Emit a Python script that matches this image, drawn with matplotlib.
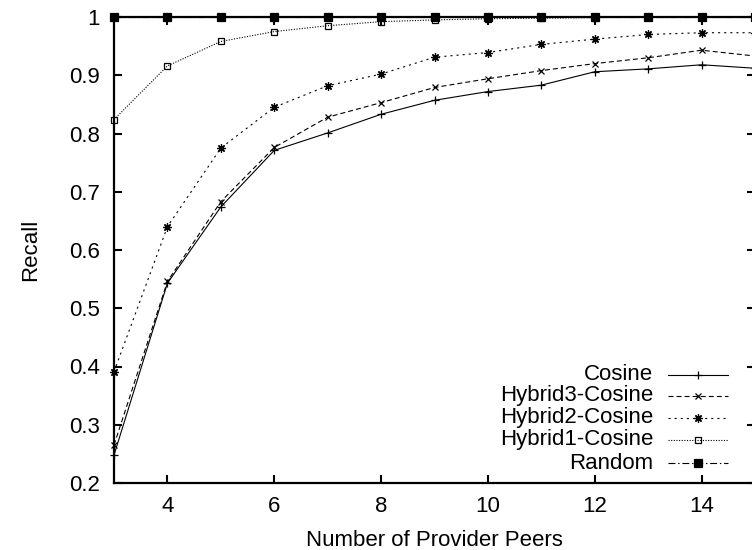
import numpy as np
import matplotlib.pyplot as plt

plt.rcParams['font.family'] = ['Liberation Sans', 'DejaVu Sans']
plt.rcParams['lines.scale_dashes'] = False

peers = np.arange(3, 16)

cosine = [0.248, 0.543, 0.674, 0.771, 0.801, 0.833, 0.857, 0.872, 0.883, 0.906, 0.911, 0.918, 0.912]
hybrid3 = [0.265, 0.546, 0.683, 0.776, 0.828, 0.853, 0.879, 0.894, 0.908, 0.920, 0.930, 0.943, 0.933]
hybrid2 = [0.391, 0.640, 0.775, 0.845, 0.882, 0.902, 0.931, 0.939, 0.953, 0.962, 0.970, 0.973, 0.973]
hybrid1 = [0.824, 0.916, 0.958, 0.975, 0.985, 0.992, 0.995, 0.997, 0.998, 0.999, 1.0, 1.0, 1.0]
random_sel = [1.0] * 13

labels = ['Cosine', 'Hybrid3-Cosine', 'Hybrid2-Cosine', 'Hybrid1-Cosine', 'Random']
series = [cosine, hybrid3, hybrid2, hybrid1, random_sel]

styles = [
    dict(ls='-', marker='+', ms=6, mfc='none'),
    dict(ls=(0, (3.6, 2.2)), marker='x', ms=5, mfc='none'),
    dict(ls=(0, (1.5, 2.9)), marker=(8, 2, 0), ms=6, mfc='none'),
    dict(ls=(0, (0.8, 1.1)), marker='s', ms=5, mfc='none'),
    dict(ls=(0, (5, 2, 1, 2)), marker='s', ms=5.5, mfc='black'),
]

fig = plt.figure(figsize=(7.52, 5.5), dpi=100)
ax = fig.add_axes([114 / 752, 67 / 550, 641 / 752, 466 / 550])

for vals, st in zip(series, styles):
    ax.plot(peers, vals, color='black', lw=0.8, mew=0.9, clip_on=False, **st)

ax.set_xlim(3, 15)
ax.set_ylim(0.2, 1.0)
ax.set_xticks(range(4, 15, 2))
yt = np.round(np.arange(0.2, 1.01, 0.1), 1)
ax.set_yticks(yt)
ax.set_yticklabels(['1' if v == 1.0 else '%.1f' % v for v in yt])

ax.tick_params(direction='in', top=True, right=True, length=6, width=1.5,
               labelsize=16, pad=10)
ax.tick_params(axis='x', pad=9)
for sp in ax.spines.values():
    sp.set_linewidth(1.6)

ax.set_xlabel('Number of Provider Peers', fontsize=16, labelpad=10)
ax.set_ylabel('Recall', fontsize=16, labelpad=20)

# key, drawn in axes coordinates: text right-aligned, sample to its right
row_y = [0.2318, 0.1867, 0.1395, 0.0923, 0.0429]
for lab, st, y in zip(labels, styles, row_y):
    ax.text(0.841, y, lab, transform=ax.transAxes, ha='right', va='center', fontsize=16)
    ax.plot([0.8643, 0.9579], [y, y], transform=ax.transAxes, color='black',
            lw=0.8, ls=st['ls'], clip_on=False)
    ax.plot([0.911], [y], transform=ax.transAxes, color='black', ls='none',
            marker=st['marker'], ms=st['ms'], mfc=st['mfc'], mew=0.9, clip_on=False)

fig.savefig('out.png', dpi=100)
